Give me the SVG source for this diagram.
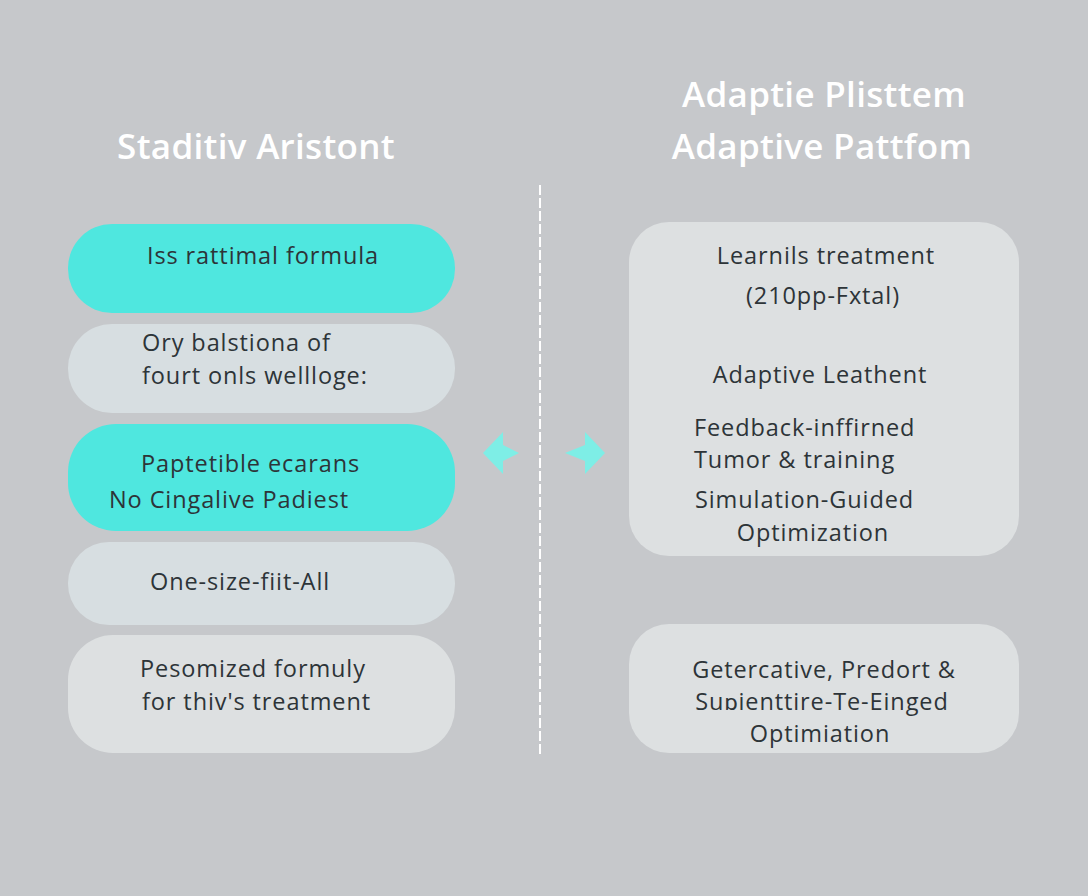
<svg xmlns="http://www.w3.org/2000/svg" width="1088" height="896" viewBox="0 0 1088 896">
<defs>
<style>
.bg{fill:#c6c8cb}
.cy{fill:#4fe7df}
.lt{fill:#d7dee1}
.lt2{fill:#dde0e1}
.t{font-family:"Open Sans","Lato",sans-serif;font-size:23.5px;fill:#2d3438;letter-spacing:0.9px}
.h{font-family:"Open Sans","Liberation Sans",sans-serif;font-weight:600;font-size:35px;fill:#ffffff;letter-spacing:0.3px}
.ar{fill:#7eeee6}
</style>
</defs>
<rect class="bg" x="0" y="0" width="1088" height="896"/>
<text class="h" x="256" y="159" text-anchor="middle">Staditiv Aristont</text>
<text class="h" x="824" y="107" text-anchor="middle">Adaptie Plisttem</text>
<text class="h" x="822" y="159" text-anchor="middle">Adaptive Pattfom</text>
<g id="connectors">
<line x1="540" y1="185" x2="540" y2="757" stroke="#ffffff" stroke-width="2" stroke-dasharray="10,3"/>
<path class="ar" d="M483,453 L503,432 L503,445 L519,453 L503,461 L503,474 Z"/>
<path class="ar" d="M605,453 L585,432 L585,445 L565,453 L585,461 L585,474 Z"/>
</g>
<g id="n1"><rect class="cy" x="68" y="224" width="387" height="89" rx="44"/>
<text class="t" x="263" y="264" text-anchor="middle">Iss rattimal formula</text></g>
<g id="n2"><rect class="lt" x="68" y="324" width="387" height="89" rx="44"/>
<text class="t" x="142" y="351">Ory balstiona of</text>
<text class="t" x="142" y="384">fourt onls wellloge:</text></g>
<g id="n3"><rect class="cy" x="68" y="424" width="387" height="107" rx="48"/>
<text class="t" x="141" y="472">Paptetible ecarans</text>
<text class="t" x="109" y="508">No Cingalive Padiest</text></g>
<g id="n4"><rect class="lt" x="68" y="542" width="387" height="83" rx="41"/>
<text class="t" x="240" y="590" text-anchor="middle">One-size-fiit-All</text></g>
<g id="n5"><rect class="lt2" x="68" y="635" width="387" height="118" rx="45"/>
<text class="t" x="140" y="677">Pesomized formuly</text>
<text class="t" x="142" y="710">for thiv's treatment</text></g>
<g id="n6"><rect class="lt2" x="629" y="222" width="390" height="334" rx="40"/>
<text class="t" x="826" y="264" text-anchor="middle">Learnils treatment</text>
<text class="t" x="823" y="304" text-anchor="middle">(210pp-Fxtal)</text>
<text class="t" x="820" y="383" text-anchor="middle">Adaptive Leathent</text>
<text class="t" x="694" y="436">Feedback-inffirned</text>
<text class="t" x="694" y="468">Tumor &amp; training</text>
<text class="t" x="695" y="508">Simulation-Guided</text>
<text class="t" x="813" y="541" text-anchor="middle">Optimization</text></g>
<g id="n7"><rect class="lt2" x="629" y="624" width="390" height="129" rx="40"/>
<text class="t" x="824" y="678" text-anchor="middle">Getercative, Predort &amp;</text>
<text class="t" x="822" y="710" text-anchor="middle">Suɒienttire-Te-Einged</text>
<text class="t" x="820" y="742" text-anchor="middle">Optimiation</text></g>
</svg>
